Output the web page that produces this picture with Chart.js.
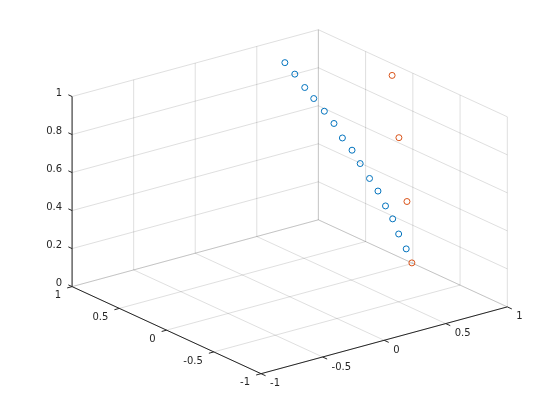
<!DOCTYPE html>
<html>
<head>
<meta charset="utf-8">
<script src="https://cdn.jsdelivr.net/npm/chart.js@4/dist/chart.umd.min.js"></script>
<style>
    body { margin: 0; background: #ffffff; }
    #contenedor { width: 560px; height: 420px; }
</style>
</head>
<body>
<div id="contenedor"><canvas id="grafico3d"></canvas></div>
<script>
// Ticks de los ejes
const xTicks = [-1, -0.5, 0, 0.5, 1];
const yTicks = [-1, -0.5, 0, 0.5, 1];
const zTicks = [0, 0.2, 0.4, 0.6, 0.8, 1];
const xTickLabels = ['-1', '-0.5', '0', '0.5', '1'];
const yTickLabels = ['-1', '-0.5', '0', '0.5', '1'];
const zTickLabels = ['0', '0.2', '0.4', '0.6', '0.8', '1'];

// Serie 1 (azul)
const azulX = [0.59, 0.64, 0.69, 0.74, 0.78, 0.82, 0.85, 0.89, 0.91, 0.94, 0.97, 0.97, 0.99, 1.00, 1.00];
const azulY = [0.82, 0.78, 0.74, 0.71, 0.65, 0.60, 0.55, 0.50, 0.44, 0.38, 0.33, 0.25, 0.20, 0.15, 0.07];
const azulZ = [0.94, 0.88, 0.81, 0.75, 0.69, 0.63, 0.56, 0.50, 0.44, 0.37, 0.31, 0.25, 0.19, 0.12, 0.06];

// Serie 2 (naranja)
const rojoX = [0.87, 0.91, 0.96, 1.00];
const rojoY = [0.05, 0.03, 0.01, 0.01];
const rojoZ = [1.00, 0.67, 0.33, 0.00];

// Vista 3D (az -37.5, el 30) y caja de ejes
const az = -37.5 * Math.PI / 180;
const el = 30 * Math.PI / 180;
const lim = { x: [-1, 1], y: [-1, 1], z: [0, 1] };
const centro = { x: 289.7, y: 201.7 };
const escala = { h: 310.4, v: 219.5 };
const ancho = 560, alto = 420;

// Proyección a coordenadas de cámara
function proyectar(x, y, z){
    const nx = (x - lim.x[0]) / (lim.x[1] - lim.x[0]) - 0.5;
    const ny = (y - lim.y[0]) / (lim.y[1] - lim.y[0]) - 0.5;
    const nz = (z - lim.z[0]) / (lim.z[1] - lim.z[0]) - 0.5;
    return {
        x: nx * Math.cos(az) + ny * Math.sin(az),
        y: (-nx * Math.sin(az) + ny * Math.cos(az)) * Math.sin(el) + nz * Math.cos(el)
    };
}

function segmento(a, b, color, orden){
    return {
        data: [proyectar(a[0], a[1], a[2]), proyectar(b[0], b[1], b[2])],
        showLine: true,
        pointRadius: 0,
        borderColor: color,
        borderWidth: 1,
        order: orden
    };
}

const colorGrid = 'rgba(38,38,38,0.15)';
const colorEje  = '#262626';
const datasets = [];

// Puntos
datasets.push({
    data: azulX.map((x, i) => proyectar(x, azulY[i], azulZ[i])),
    pointStyle: 'circle', pointRadius: 3, borderWidth: 1,
    borderColor: '#0072BD', backgroundColor: 'rgba(0,0,0,0)', order: 0
});
datasets.push({
    data: rojoX.map((x, i) => proyectar(x, rojoY[i], rojoZ[i])),
    pointStyle: 'circle', pointRadius: 3, borderWidth: 1,
    borderColor: '#D95319', backgroundColor: 'rgba(0,0,0,0)', order: 0
});

// Grid: suelo, pared y=1, pared x=1
xTicks.forEach(v => {
    datasets.push(segmento([v, -1, 0], [v, 1, 0], colorGrid, 3));
    datasets.push(segmento([v, 1, 0], [v, 1, 1], colorGrid, 3));
});
yTicks.forEach(v => {
    datasets.push(segmento([-1, v, 0], [1, v, 0], colorGrid, 3));
    datasets.push(segmento([1, v, 0], [1, v, 1], colorGrid, 3));
});
zTicks.forEach(v => {
    datasets.push(segmento([-1, 1, v], [1, 1, v], colorGrid, 3));
    datasets.push(segmento([1, -1, v], [1, 1, v], colorGrid, 3));
});

// Ejes y marcas
datasets.push(segmento([-1, -1, 0], [1, -1, 0], colorEje, 1));
datasets.push(segmento([-1, -1, 0], [-1, 1, 0], colorEje, 1));
datasets.push(segmento([-1, 1, 0], [-1, 1, 1], colorEje, 1));
xTicks.forEach(v => datasets.push(segmento([v, -1, 0], [v, -1.048, 0], colorEje, 1)));
yTicks.forEach(v => datasets.push(segmento([-1, v, 0], [-1.04, v, 0], colorEje, 1)));
zTicks.forEach(v => datasets.push(segmento([-1, 1, v], [-1, 1.04, v], colorEje, 1)));

// Etiquetas de los ticks
const etiquetas = {
    id: 'etiquetas',
    afterDatasetsDraw(chart){
        const ctx = chart.ctx;
        const sx = chart.scales.x, sy = chart.scales.y;
        const pix = p => ({ x: sx.getPixelForValue(p.x), y: sy.getPixelForValue(p.y) });
        ctx.save();
        ctx.font = '10px "DejaVu Sans"';
        ctx.fillStyle = '#262626';
        ctx.textBaseline = 'middle';

        ctx.textAlign = 'left';
        xTicks.forEach((v, i) => {
            const p = pix(proyectar(v, -1, 0));
            ctx.fillText(xTickLabels[i], p.x + 9, p.y + 10);
        });
        ctx.textAlign = 'right';
        yTicks.forEach((v, i) => {
            const p = pix(proyectar(-1, v, 0));
            ctx.fillText(yTickLabels[i], p.x - 11, p.y + 9);
        });
        zTicks.forEach((v, i) => {
            const p = pix(proyectar(-1, 1, v));
            ctx.fillText(zTickLabels[i], p.x - 10, p.y - 3);
        });
        ctx.restore();
    }
};

new Chart(document.getElementById('grafico3d'), {
    type: 'scatter',
    data: { datasets: datasets },
    options: {
        responsive: true,
        maintainAspectRatio: false,
        animation: false,
        devicePixelRatio: 1,
        layout: { padding: 0, autoPadding: false },
        plugins: {
            legend:  { display: false },
            tooltip: { enabled: false }
        },
        scales: {
            x: {
                type: 'linear', display: false,
                min: -centro.x / escala.h,
                max: (ancho - centro.x) / escala.h
            },
            y: {
                type: 'linear', display: false,
                min: -(alto - centro.y) / escala.v,
                max: centro.y / escala.v
            }
        }
    },
    plugins: [etiquetas]
});
</script>
</body>
</html>
